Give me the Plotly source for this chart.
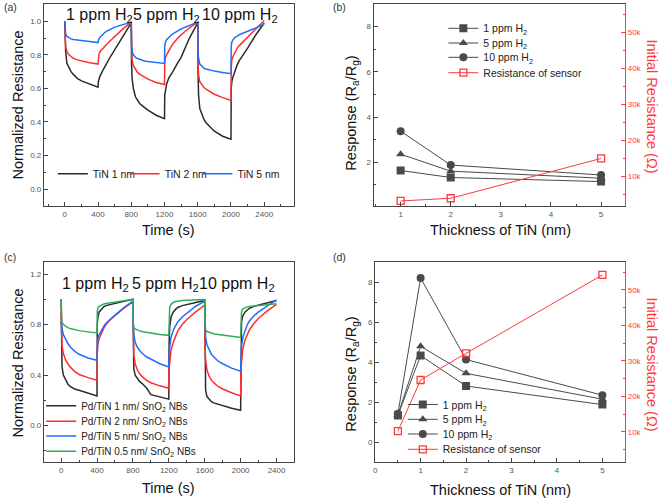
import plotly.graph_objects as go

W, H = 661, 500

# ---------------- data ----------------
time_s = [0, 3, 10, 25, 50, 75, 100, 150, 200, 300, 400,
          403, 410, 425, 450, 475, 500, 550, 600, 700, 800,
          803, 810, 825, 850, 875, 900, 950, 1000, 1100, 1200,
          1203, 1210, 1225, 1250, 1275, 1300, 1350, 1400, 1500, 1600,
          1603, 1610, 1625, 1650, 1675, 1700, 1750, 1800, 1900, 2000,
          2003, 2010, 2025, 2050, 2075, 2100, 2150, 2200, 2300, 2400]

a_tin1 = [1.0, 0.90, 0.82, 0.75, 0.72, 0.70, 0.685, 0.66, 0.645, 0.625, 0.607,
          0.64, 0.655, 0.675, 0.70, 0.725, 0.75, 0.79, 0.83, 0.91, 0.99,
          0.75, 0.66, 0.60, 0.55, 0.53, 0.51, 0.49, 0.47, 0.44, 0.42,
          0.56, 0.59, 0.625, 0.66, 0.685, 0.70, 0.745, 0.785, 0.90, 0.99,
          0.70, 0.56, 0.48, 0.44, 0.415, 0.395, 0.37, 0.345, 0.315, 0.297,
          0.60, 0.64, 0.67, 0.71, 0.74, 0.765, 0.80, 0.84, 0.92, 0.99]
a_tin2 = [0.97, 0.90, 0.85, 0.82, 0.80, 0.79, 0.78, 0.77, 0.763, 0.753, 0.745,
          0.77, 0.80, 0.82, 0.835, 0.85, 0.86, 0.885, 0.91, 0.955, 0.995,
          0.82, 0.77, 0.735, 0.71, 0.695, 0.685, 0.67, 0.655, 0.635, 0.623,
          0.75, 0.78, 0.80, 0.825, 0.845, 0.865, 0.895, 0.92, 0.96, 0.995,
          0.75, 0.68, 0.64, 0.62, 0.605, 0.595, 0.578, 0.565, 0.545, 0.528,
          0.72, 0.77, 0.79, 0.82, 0.84, 0.855, 0.88, 0.905, 0.955, 1.005]
a_tin5 = [1.0, 0.95, 0.925, 0.91, 0.90, 0.895, 0.892, 0.888, 0.884, 0.879, 0.873,
          0.885, 0.895, 0.905, 0.92, 0.93, 0.94, 0.955, 0.965, 0.98, 0.995,
          0.86, 0.82, 0.80, 0.785, 0.778, 0.772, 0.765, 0.76, 0.754, 0.749,
          0.85, 0.875, 0.89, 0.905, 0.915, 0.925, 0.94, 0.955, 0.975, 0.995,
          0.83, 0.78, 0.745, 0.73, 0.72, 0.715, 0.708, 0.703, 0.695, 0.688,
          0.85, 0.875, 0.89, 0.905, 0.912, 0.92, 0.93, 0.94, 0.96, 0.985]

c_pd1 = [1.0, 0.60, 0.47, 0.40, 0.36, 0.33, 0.31, 0.29, 0.28, 0.26, 0.235,
         0.80, 0.86, 0.90, 0.925, 0.94, 0.95, 0.96, 0.968, 0.985, 1.0,
         0.60, 0.45, 0.40, 0.37, 0.35, 0.335, 0.30, 0.245, 0.225, 0.21,
         0.65, 0.78, 0.86, 0.90, 0.92, 0.935, 0.95, 0.96, 0.975, 0.99,
         0.45, 0.28, 0.23, 0.205, 0.19, 0.18, 0.168, 0.155, 0.137, 0.122,
         0.70, 0.82, 0.87, 0.90, 0.915, 0.93, 0.945, 0.955, 0.975, 0.99]
c_pd2 = [0.90, 0.72, 0.64, 0.57, 0.52, 0.49, 0.465, 0.43, 0.405, 0.38, 0.36,
         0.58, 0.65, 0.69, 0.735, 0.77, 0.80, 0.84, 0.87, 0.93, 0.98,
         0.70, 0.56, 0.49, 0.44, 0.41, 0.39, 0.36, 0.34, 0.315, 0.296,
         0.45, 0.52, 0.60, 0.66, 0.71, 0.75, 0.80, 0.84, 0.90, 0.955,
         0.65, 0.52, 0.44, 0.39, 0.36, 0.34, 0.31, 0.29, 0.26, 0.235,
         0.45, 0.53, 0.61, 0.68, 0.725, 0.76, 0.81, 0.85, 0.91, 0.96]
c_pd5 = [0.83, 0.80, 0.77, 0.72, 0.68, 0.65, 0.625, 0.59, 0.565, 0.535, 0.518,
         0.64, 0.69, 0.72, 0.755, 0.785, 0.81, 0.845, 0.875, 0.935, 0.985,
         0.80, 0.72, 0.66, 0.62, 0.595, 0.575, 0.545, 0.525, 0.49, 0.465,
         0.55, 0.62, 0.70, 0.755, 0.79, 0.82, 0.86, 0.89, 0.945, 0.985,
         0.78, 0.70, 0.64, 0.595, 0.565, 0.545, 0.51, 0.49, 0.455, 0.43,
         0.55, 0.63, 0.70, 0.76, 0.80, 0.83, 0.87, 0.90, 0.95, 0.995]
c_pd05 = [1.0, 0.86, 0.82, 0.80, 0.785, 0.775, 0.768, 0.758, 0.752, 0.742, 0.733,
          0.90, 0.93, 0.945, 0.955, 0.962, 0.966, 0.972, 0.977, 0.988, 1.0,
          0.82, 0.78, 0.765, 0.755, 0.75, 0.745, 0.738, 0.732, 0.722, 0.715,
          0.90, 0.94, 0.96, 0.975, 0.982, 0.986, 0.99, 0.992, 0.995, 0.998,
          0.80, 0.76, 0.745, 0.738, 0.733, 0.728, 0.722, 0.716, 0.708, 0.698,
          0.85, 0.90, 0.925, 0.935, 0.94, 0.943, 0.947, 0.95, 0.958, 0.965]

b_thick = [1, 2, 5]
b_1ppm = [1.64, 1.33, 1.15]
b_5ppm = [2.36, 1.61, 1.30]
b_10ppm = [3.38, 1.88, 1.44]
b_res = [3100, 3850, 14900]

d_thick = [0.5, 1, 2, 5]
d_1ppm = [1.34, 4.33, 2.81, 1.88]
d_5ppm = [1.37, 4.79, 3.44, 2.15]
d_10ppm = [1.42, 8.2, 4.13, 2.35]
d_res = [10200, 24600, 32100, 54200]

conc_labels = ["1 ppm H<sub>2</sub>", "5 ppm H<sub>2</sub>", "10 ppm H<sub>2</sub>"]
a_names = ["TiN 1 nm", "TiN 2 nm", "TiN 5 nm"]
c_names = ["Pd/TiN 1 nm/ SnO<sub>2</sub> NBs", "Pd/TiN 2 nm/ SnO<sub>2</sub> NBs",
           "Pd/TiN 5 nm/ SnO<sub>2</sub> NBs", "Pd/TiN 0.5 nm/ SnO<sub>2</sub> NBs"]
resp_names = ["1 ppm H<sub>2</sub>", "5 ppm H<sub>2</sub>", "10 ppm H<sub>2</sub>",
              "Resistance of sensor"]
res_ticks = [10000, 20000, 30000, 40000, 50000]
res_ticktext = ["10k", "20k", "30k", "40k", "50k"]

# ---------------- style ----------------
FONT = "Liberation Sans, Arial, sans-serif"
AX = "#444444"
TICKF = dict(family=FONT, size=8, color="#555555")
BLACK = "#2b2b2b"
RED = "#ff2d2d"
BLUE = "#1f6fff"
GREEN = "#2fae5a"
GRAY = "#4a4a4a"
RRED = "#ff3a3a"


def px(xp):
    return xp / W


def py(yp):
    return 1 - yp / H


fig = go.Figure()

legends = {}


def add_legend(key, text_x, yc, size=10.5):
    legends[key] = dict(x=px(text_x - 40), y=py(yc), xanchor="left", yanchor="middle",
                        bgcolor="rgba(0,0,0,0)", borderwidth=0,
                        font=dict(family=FONT, size=size, color="#222222"))


# panel a
a_series = [a_tin1, a_tin2, a_tin5]
a_cols = [BLACK, RED, BLUE]
a_leg_x = [91, 163, 236]
for i, (ys, col, nm) in enumerate(zip(a_series, a_cols, a_names)):
    key = "legend" if i == 0 else f"legend{i + 1}"
    fig.add_trace(go.Scatter(x=time_s, y=ys, mode="lines", name=nm,
                             line=dict(color=col, width=1.5),
                             xaxis="x", yaxis="y", legend=key))
    add_legend(key, a_leg_x[i], 173.7)

# panel b
b_leg_y = [28.3, 43, 57.3, 72.7]
b_sets = [(b_1ppm, "square"), (b_5ppm, "triangle-up"), (b_10ppm, "circle")]
for i, (ys, sym) in enumerate(b_sets):
    key = f"legend{4 + i}"
    fig.add_trace(go.Scatter(x=b_thick, y=ys, mode="lines+markers", name=resp_names[i],
                             line=dict(color=GRAY, width=1),
                             marker=dict(symbol=sym, size=8, color=GRAY),
                             xaxis="x2", yaxis="y2", legend=key))
    add_legend(key, 482.7, b_leg_y[i])
fig.add_trace(go.Scatter(x=b_thick, y=b_res, mode="lines+markers", name=resp_names[3],
                         line=dict(color=RRED, width=1),
                         marker=dict(symbol="square-open", size=7, color=RRED,
                                     line=dict(width=1.3, color=RRED)),
                         xaxis="x2", yaxis="y3", legend="legend7"))
add_legend("legend7", 482.7, b_leg_y[3])

# panel c
c_series = [c_pd1, c_pd2, c_pd5, c_pd05]
c_cols = [BLACK, RED, BLUE, GREEN]
c_leg_y = [405.7, 421.3, 436, 451.3]
for i, (ys, col, nm) in enumerate(zip(c_series, c_cols, c_names)):
    key = f"legend{8 + i}"
    fig.add_trace(go.Scatter(x=time_s, y=ys, mode="lines", name=nm,
                             line=dict(color=col, width=1.5),
                             xaxis="x3", yaxis="y4", legend=key))
    add_legend(key, 79.3, c_leg_y[i], size=10)

# panel d
d_leg_y = [404.5, 419.3, 434, 449.3]
d_sets = [(d_1ppm, "square"), (d_5ppm, "triangle-up"), (d_10ppm, "circle")]
for i, (ys, sym) in enumerate(d_sets):
    key = f"legend{12 + i}"
    fig.add_trace(go.Scatter(x=d_thick, y=ys, mode="lines+markers", name=resp_names[i],
                             line=dict(color=GRAY, width=1),
                             marker=dict(symbol=sym, size=8, color=GRAY),
                             xaxis="x4", yaxis="y5", legend=key))
    add_legend(key, 442, d_leg_y[i])
fig.add_trace(go.Scatter(x=d_thick, y=d_res, mode="lines+markers", name=resp_names[3],
                         line=dict(color=RRED, width=1),
                         marker=dict(symbol="square-open", size=7, color=RRED,
                                     line=dict(width=1.3, color=RRED)),
                         xaxis="x4", yaxis="y6", legend="legend15"))
add_legend("legend15", 442, d_leg_y[3])


def axis(domain, rng, dtick, minor_dtick, anchor, mirror=True, tickformat=None,
         color=AX, tickfont=None, **kw):
    d = dict(domain=domain, range=rng, anchor=anchor, showline=True, linecolor=color,
             linewidth=1, mirror=mirror, ticks="inside", ticklen=4, tickwidth=1,
             tickcolor=color, showgrid=False, zeroline=False,
             tickfont=tickfont or TICKF,
             minor=dict(ticks="inside", ticklen=2, tickwidth=1, tickcolor=color,
                        dtick=minor_dtick, showgrid=False))
    if dtick is not None:
        d["dtick"] = dtick
        d["tick0"] = 0
    if tickformat:
        d["tickformat"] = tickformat
    d.update(kw)
    return d


xa = [px(42), px(293)]
xb = [px(372.7), px(625)]
xd = [px(374.3), px(625)]
ytop = [py(206), py(4)]
ybot = [py(462.3), py(262)]

layout = dict(
    width=W, height=H, margin=dict(l=0, r=0, t=0, b=0),
    paper_bgcolor="white", plot_bgcolor="white",
    font=dict(family=FONT, color="#222222"),
    xaxis=axis(xa, [-252, 2760], 400, 200, "y"),
    yaxis=axis(ytop, [-0.101, 1.103], 0.2, 0.1, "x", tickformat=".1f"),
    xaxis2=axis(xb, [0.46, 5.48], 1, 0.5, "y2"),
    yaxis2=axis(ytop, [0.07, 9.0], None, 1, "x2", mirror=False, tickvals=[2, 4, 6, 8]),
    yaxis3=axis(ytop, [1700, 57800], None, 5000, "x2", mirror=False, color=RRED,
                tickfont=dict(family=FONT, size=8, color=RRED), overlaying="y2",
                side="right", tickvals=res_ticks, ticktext=res_ticktext),
    xaxis3=axis(xa, [-192, 2596], 400, 200, "y4"),
    yaxis4=axis(ybot, [-0.29, 1.295], 0.4, 0.2, "x3", tickformat=".1f"),
    xaxis4=axis(xd, [0, 5.5], 1, 0.5, "y5"),
    yaxis5=axis(ybot, [-1.0, 9.0], None, 1, "x4", mirror=False, tickvals=[0, 2, 4, 6, 8]),
    yaxis6=axis(ybot, [1400, 57850], None, 5000, "x4", mirror=False, color=RRED,
                tickfont=dict(family=FONT, size=8, color=RRED), overlaying="y5",
                side="right", tickvals=res_ticks, ticktext=res_ticktext),
    showlegend=True,
)
layout.update(legends)
fig.update_layout(**layout)

# ---------------- text annotations ----------------
ann = []


def text(s, x, y, size, color="#111111", angle=0):
    ann.append(dict(text=s, x=px(x), y=py(y), xref="paper", yref="paper",
                    xanchor="center", yanchor="middle", showarrow=False,
                    textangle=angle, font=dict(family=FONT, size=size, color=color)))


for lab, xx in zip(conc_labels, [98, 165.5, 238.5]):
    text(lab, xx, 15, 16)
for lab, xx in zip(conc_labels, [94, 163.5, 235.5]):
    text(lab, xx, 284, 16)

text("(a)", 8.5, 7, 10.5, "#333333")
text("(b)", 338.5, 7, 10.5, "#333333")
text("(c)", 8.5, 257, 10.5, "#333333")
text("(d)", 338.5, 257, 10.5, "#333333")

text("Normalized Resistance", 16.5, 105, 14.5, angle=-90)
text("Time (s)", 167.5, 230, 14.5)
text("Normalized Resistance", 16.5, 363, 14.5, angle=-90)
text("Time (s)", 167.5, 488, 14.5)

text("Response (R<sub>a</sub>/R<sub>g</sub>)", 350.7, 113, 14.5, angle=-90)
text("Initial Resistance (Ω)", 651.5, 106, 14.5, RRED, angle=90)
text("Thickness of TiN (nm)", 500, 230, 14.5)
text("Response (R<sub>a</sub>/R<sub>g</sub>)", 350.7, 374, 14.5, angle=-90)
text("Initial Resistance (Ω)", 651.5, 364, 14.5, RRED, angle=90)
text("Thickness of TiN (nm)", 500, 490, 14.5)

fig.update_layout(annotations=ann)

fig.write_html("out.html", config={"displayModeBar": False},
               post_script="document.body.style.margin='0';document.body.style.overflow='hidden';")
